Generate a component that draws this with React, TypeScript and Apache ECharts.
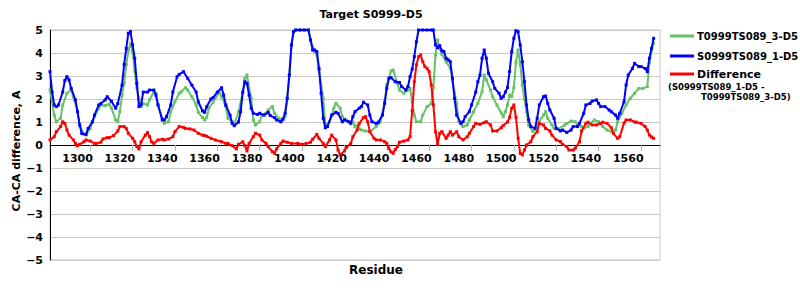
import React, { useEffect, useRef } from "react";
import * as echarts from "echarts";

const FONT = '"DejaVu Sans", Verdana, sans-serif';

const xLabelValues = [1300, 1320, 1340, 1360, 1380, 1400, 1420, 1440, 1460, 1480, 1500, 1520, 1540, 1560];
const xTickValues = [1306, 1326, 1346, 1366, 1386, 1406, 1426, 1446, 1466, 1486, 1506, 1526, 1546, 1566];

const seriesNames = ["T0999TS089_3-D5", "S0999TS089_1-D5", "Difference"];
const seriesColors = ["#66c266", "#0000ff", "#ff0000"];

// T0999TS089_3-D5 (green)
const greenData: [number, number][] = [
  [1287, 2.4], [1289, 1.3], [1290, 1.01], [1292, 1.16], [1293, 1.74], [1295, 2.25], [1297, 2.39], [1298, 2.1],
  [1300, 1.45], [1301, 0.87], [1303, 0.46], [1304, 0.43], [1306, 0.72], [1307, 1.01], [1310, 1.6], [1311, 1.74],
  [1313, 1.71], [1315, 1.77], [1316, 1.6], [1318, 1.09], [1319, 1.01], [1320, 1.45], [1321, 2.17], [1322, 2.7],
  [1323, 3.5], [1324, 4.1], [1325, 4.42], [1326, 4.06], [1327, 3.2], [1328, 2.5], [1329, 2.0], [1330, 1.67],
  [1331, 1.81], [1333, 1.74], [1334, 1.96], [1336, 2.3], [1337, 2.25], [1338, 1.74], [1340, 1.16], [1341, 0.94],
  [1343, 1.01], [1344, 1.45], [1346, 1.88], [1348, 2.25], [1349, 2.32], [1351, 2.49], [1352, 2.39], [1354, 2.1],
  [1356, 1.74], [1357, 1.42], [1359, 1.19], [1360, 1.09], [1361, 1.19], [1362, 1.6], [1364, 1.86], [1367, 2.3],
  [1368, 2.1], [1370, 1.67], [1371, 1.16], [1373, 1.01], [1374, 0.9], [1376, 1.45], [1378, 2.3], [1379, 2.9],
  [1380, 3.04], [1382, 2.03], [1383, 1.09], [1384, 0.87], [1386, 1.01], [1387, 1.3], [1389, 1.38], [1390, 1.52],
  [1392, 1.67], [1393, 1.38], [1395, 1.16], [1397, 1.09], [1398, 1.23], [1399, 2.03], [1400, 3.04], [1401, 4.35],
  [1402, 4.93], [1403, 5], [1405, 5], [1407, 5], [1409, 5], [1410, 4.57], [1412, 4.06], [1413, 3.91],
  [1414, 3.26], [1416, 2.03], [1417, 0.87], [1419, 1.01], [1421, 1.6], [1422, 1.81], [1424, 1.6], [1425, 1.23],
  [1427, 1.09], [1429, 0.92], [1430, 1.0], [1431, 0.8], [1432, 0.85], [1433, 0.7], [1434, 0.65], [1436, 0.61],
  [1438, 0.58], [1441, 0.8], [1443, 1.01], [1445, 1.9], [1446, 2.61], [1448, 3.22], [1449, 3.26], [1451, 2.68],
  [1452, 2.39], [1454, 2.25], [1456, 2.39], [1457, 2.46], [1458, 1.88], [1459, 1.3], [1460, 1.01], [1462, 1.01],
  [1463, 1.3], [1465, 1.67], [1467, 1.8], [1468, 2.5], [1469, 3.91], [1470, 4.57], [1471, 4.2], [1472, 3.95],
  [1474, 3.62], [1476, 3.33], [1477, 2.8], [1479, 1.81], [1480, 1.01], [1482, 0.8], [1484, 0.87], [1485, 1.09],
  [1487, 1.45], [1489, 1.81], [1491, 2.32], [1492, 3.04], [1493, 2.83], [1495, 2.39], [1496, 2.1], [1498, 1.74],
  [1500, 1.4], [1501, 1.23], [1502, 1.45], [1503, 1.74], [1504, 2.17], [1505, 2.1], [1506, 2.5], [1507, 3.6],
  [1508, 4.13], [1509, 3.5], [1510, 2.6], [1511, 2.0], [1512, 1.45], [1513, 0.87], [1515, 0.58], [1517, 0.8],
  [1518, 1.01], [1520, 1.3], [1521, 1.45], [1522, 1.16], [1524, 0.87], [1525, 0.72], [1527, 0.7], [1530, 0.87],
  [1531, 0.94], [1533, 1.04], [1535, 1.01], [1536, 0.87], [1538, 0.8], [1539, 0.72], [1541, 0.8], [1542, 0.94],
  [1544, 1.09], [1546, 1.01], [1548, 0.8], [1550, 0.65], [1552, 0.58], [1554, 0.65], [1555, 1.01], [1557, 1.38],
  [1559, 1.74], [1561, 2.03], [1563, 2.25], [1565, 2.46], [1567, 2.46], [1569, 2.54], [1570, 3.6], [1571, 4.1],
  [1572, 4.42],
];

// S0999TS089_1-D5 (blue)
const blueData: [number, number][] = [
  [1287, 3.19], [1288, 2.3], [1289, 1.74], [1290, 1.67], [1291, 1.74], [1293, 2.3], [1294, 2.8], [1295, 2.97],
  [1296, 2.83], [1297, 2.46], [1299, 1.96], [1300, 1.45], [1301, 0.87], [1302, 0.5], [1304, 0.46], [1305, 0.72],
  [1307, 1.0], [1308, 1.3], [1310, 1.74], [1311, 1.8], [1313, 1.96], [1314, 2.1], [1316, 1.9], [1318, 1.6],
  [1319, 1.8], [1321, 2.6], [1322, 3.5], [1323, 4.2], [1324, 4.86], [1325, 4.93], [1326, 4.35], [1327, 3.77],
  [1328, 2.68], [1329, 1.67], [1330, 1.74], [1331, 2.3], [1333, 2.3], [1334, 2.39], [1336, 2.39], [1337, 2.17],
  [1338, 1.74], [1340, 1.09], [1341, 1.09], [1342, 1.23], [1344, 1.74], [1345, 2.3], [1347, 2.97], [1348, 3.07],
  [1350, 3.19], [1352, 2.9], [1354, 2.6], [1356, 2.3], [1357, 1.88], [1359, 1.48], [1360, 1.42], [1361, 1.67],
  [1363, 2.0], [1364, 2.06], [1366, 2.3], [1368, 2.49], [1369, 2.17], [1370, 1.74], [1372, 1.3], [1373, 0.94],
  [1374, 0.84], [1376, 1.0], [1377, 1.45], [1378, 2.3], [1379, 2.75], [1380, 2.68], [1381, 2.17], [1382, 1.6],
  [1383, 1.38], [1385, 1.33], [1386, 1.38], [1388, 1.3], [1390, 1.42], [1391, 1.28], [1393, 1.19], [1394, 1.09],
  [1396, 1.01], [1397, 1.13], [1398, 1.38], [1399, 2.03], [1400, 3.04], [1401, 4.35], [1402, 4.93], [1403, 5],
  [1405, 5], [1407, 5], [1409, 5], [1410, 4.57], [1411, 4.13], [1412, 4.13], [1413, 4.06], [1414, 3.33],
  [1415, 2.25], [1416, 1.16], [1417, 0.75], [1418, 0.8], [1420, 1.3], [1422, 1.42], [1423, 1.38], [1425, 1.01],
  [1426, 1.09], [1428, 1.01], [1429, 0.95], [1430, 1.23], [1431, 1.45], [1433, 1.6], [1434, 1.67], [1435, 1.86],
  [1437, 1.74], [1438, 1.3], [1439, 1.01], [1441, 0.94], [1442, 0.99], [1444, 1.3], [1445, 1.81], [1446, 2.46],
  [1447, 2.9], [1448, 2.93], [1450, 2.75], [1452, 2.72], [1453, 2.54], [1455, 2.39], [1456, 2.54], [1457, 2.97],
  [1458, 3.3], [1459, 3.84], [1460, 4.49], [1461, 5], [1463, 5], [1465, 5], [1467, 5], [1468, 5],
  [1469, 4.35], [1470, 4.23], [1471, 4.32], [1472, 4.1], [1473, 4.06], [1474, 3.77], [1475, 3.7], [1476, 3.62],
  [1477, 2.9], [1478, 2.03], [1479, 1.3], [1481, 0.94], [1482, 1.01], [1483, 1.23], [1485, 1.45], [1486, 1.74],
  [1488, 2.3], [1489, 2.75], [1490, 3.04], [1491, 3.77], [1492, 4.13], [1493, 3.77], [1494, 3.12], [1496, 2.75],
  [1497, 2.46], [1499, 2.25], [1500, 2.03], [1501, 2.1], [1502, 2.3], [1503, 2.5], [1504, 3.2], [1505, 4.06],
  [1506, 4.64], [1507, 4.97], [1508, 4.93], [1509, 4.35], [1510, 3.62], [1511, 2.75], [1512, 1.74], [1513, 1.09],
  [1514, 0.8], [1516, 0.72], [1517, 1.16], [1518, 1.74], [1520, 2.1], [1521, 2.13], [1522, 1.81], [1523, 1.52],
  [1525, 1.16], [1526, 0.72], [1528, 0.61], [1529, 0.65], [1531, 0.55], [1533, 0.65], [1534, 0.8], [1536, 0.8],
  [1537, 0.94], [1539, 1.38], [1540, 1.74], [1542, 1.81], [1543, 1.91], [1545, 1.96], [1546, 1.81], [1547, 1.67],
  [1549, 1.67], [1551, 1.52], [1552, 1.45], [1554, 1.3], [1555, 1.16], [1556, 1.38], [1558, 1.88], [1559, 2.61],
  [1560, 3.04], [1562, 3.33], [1563, 3.55], [1565, 3.41], [1566, 3.41], [1568, 3.33], [1569, 3.19], [1570, 3.77],
  [1571, 4.2], [1572, 4.64],
];

// Difference (red)
const redData: [number, number][] = [
  [1287, 0.22], [1289, 0.36], [1290, 0.58], [1292, 0.8], [1293, 1.01], [1294, 0.94], [1295, 0.65], [1296, 0.43],
  [1298, 0.22], [1299, 0.07], [1300, -0.03], [1301, 0.03], [1303, 0.14], [1304, 0.22], [1306, 0.17], [1308, 0.07],
  [1309, 0.07], [1311, 0.12], [1312, 0.26], [1314, 0.32], [1315, 0.32], [1317, 0.41], [1319, 0.61], [1320, 0.8],
  [1322, 0.8], [1323, 0.72], [1324, 0.51], [1326, 0.29], [1327, 0.14], [1328, -0.07], [1329, -0.17], [1330, 0.14],
  [1332, 0.43], [1333, 0.54], [1334, 0.36], [1335, 0.14], [1336, 0.07], [1338, 0.22], [1340, 0.25], [1341, 0.22],
  [1343, 0.26], [1345, 0.36], [1346, 0.58], [1348, 0.8], [1350, 0.77], [1351, 0.72], [1353, 0.7], [1355, 0.65],
  [1357, 0.51], [1359, 0.43], [1360, 0.41], [1361, 0.38], [1363, 0.29], [1365, 0.22], [1368, 0.14], [1370, 0.07],
  [1371, 0.07], [1373, -0.03], [1375, -0.17], [1376, 0.03], [1378, 0.14], [1379, -0.03], [1380, -0.26], [1381, 0.07],
  [1383, 0.36], [1384, 0.51], [1386, 0.43], [1387, 0.22], [1389, 0.07], [1390, -0.07], [1392, -0.29], [1393, -0.36],
  [1394, -0.17], [1396, 0.07], [1397, 0.17], [1399, 0.12], [1401, 0.07], [1404, 0.07], [1406, 0.03], [1408, 0.07],
  [1410, 0.12], [1411, 0.25], [1413, 0.46], [1414, 0.29], [1416, 0.07], [1417, -0.07], [1419, 0.22], [1420, 0.43],
  [1422, 0.22], [1423, -0.22], [1424, -0.43], [1426, -0.26], [1427, -0.1], [1429, 0.07], [1430, 0.36], [1432, 0.65],
  [1433, 0.94], [1435, 1.19], [1436, 1.23], [1437, 1.01], [1438, 0.58], [1440, 0.29], [1441, 0.22], [1443, 0.22],
  [1445, 0.14], [1446, 0.07], [1447, -0.14], [1448, -0.3], [1449, -0.36], [1450, -0.2], [1451, -0.07], [1452, 0.12],
  [1454, 0.17], [1456, 0.22], [1457, 0.36], [1458, 1.5], [1459, 2.75], [1460, 3.48], [1461, 3.84], [1462, 3.91],
  [1463, 3.62], [1464, 3.41], [1465, 3.33], [1466, 3.19], [1467, 2.61], [1468, 1.74], [1469, 0.58], [1470, 0.03],
  [1471, 0.51], [1472, 0.58], [1474, 0.29], [1475, 0.43], [1476, 0.58], [1477, 0.43], [1479, 0.58], [1480, 0.36],
  [1482, 0.22], [1484, 0.36], [1485, 0.51], [1487, 0.8], [1488, 0.94], [1490, 0.9], [1492, 0.97], [1493, 1.01],
  [1495, 0.87], [1496, 0.61], [1498, 0.61], [1500, 0.75], [1501, 0.85], [1503, 1.0], [1504, 1.2], [1505, 1.6],
  [1506, 1.74], [1507, 1.2], [1508, 0.29], [1509, -0.36], [1510, -0.43], [1511, -0.22], [1512, 0], [1514, 0.14],
  [1515, 0.36], [1517, 0.58], [1518, 0.94], [1520, 0.87], [1521, 0.72], [1523, 0.61], [1524, 0.43], [1526, 0.22],
  [1528, 0.14], [1529, 0.03], [1531, -0.07], [1532, -0.22], [1534, -0.22], [1535, -0.14], [1537, 0.14], [1538, 0.61],
  [1540, 0.94], [1541, 0.99], [1543, 0.87], [1545, 0.87], [1547, 0.94], [1548, 0.99], [1550, 0.94], [1552, 0.75],
  [1553, 0.51], [1555, 0.29], [1556, 0.36], [1558, 0.95], [1559, 1.09], [1561, 1.09], [1563, 1.0], [1564, 0.99],
  [1566, 0.94], [1568, 0.8], [1569, 0.65], [1570, 0.43], [1571, 0.35], [1572, 0.29],
];

const GRID_TOP = 30;
const GRID_BOTTOM = 40;
const PLOT_H = 300 - GRID_TOP - GRID_BOTTOM;
const Y_MIN = -5;
const Y_MAX = 5;

export default function App() {
  const ref = useRef<HTMLDivElement>(null);

  useEffect(() => {
    if (!ref.current) return;
    const chart = echarts.init(ref.current, undefined, { renderer: "svg" });
    const mkSeries = (i: number, data: [number, number][]) => ({
      name: seriesNames[i],
      type: "line",
      data,
      symbol: "rect",
      symbolSize: 3,
      showAllSymbol: true,
      lineStyle: { color: seriesColors[i], width: 2 },
      itemStyle: { color: seriesColors[i] },
      z: 2 + i,
    });
    // x axis sits on the zero line: shift it up from the grid bottom
    const zeroOffset = -(PLOT_H * (0 - Y_MIN)) / (Y_MAX - Y_MIN);
    chart.setOption({
      animation: false,
      backgroundColor: "#ffffff",
      title: {
        text: "Target S0999-D5",
        left: 371,
        top: 9,
        textAlign: "center",
        padding: 0,
        textStyle: { fontFamily: FONT, fontSize: 11, fontWeight: "bold", color: "#000" },
      },
      grid: {
        left: 50,
        right: 140,
        top: GRID_TOP,
        bottom: GRID_BOTTOM,
        show: true,
        borderColor: "#c8c8c8",
        borderWidth: 1,
        containLabel: false,
      },
      xAxis: {
        type: "value",
        min: 1287,
        max: 1575,
        position: "bottom",
        offset: zeroOffset,
        axisLine: { onZero: false, lineStyle: { color: "#000", width: 1 } },
        axisTick: {
          show: true,
          customValues: xTickValues,
          length: 6,
          lineStyle: { color: "#b4b4b4" },
        },
        axisLabel: {
          customValues: xLabelValues,
          fontFamily: FONT,
          fontSize: 11,
          fontWeight: "bold",
          color: "#000",
          margin: 8,
          formatter: (v: number) => String(v),
        },
        splitLine: { show: false },
      },
      yAxis: {
        type: "value",
        min: Y_MIN,
        max: Y_MAX,
        interval: 1,
        axisLine: { show: true, onZero: false, lineStyle: { color: "#000", width: 1 } },
        axisTick: { show: false },
        axisLabel: {
          fontFamily: FONT,
          fontSize: 11,
          fontWeight: "bold",
          color: "#000",
          margin: 7,
          formatter: (v: number) => String(v).replace("-", "\u2212"),
        },
        splitLine: { show: true, lineStyle: { color: "#c8c8c8", width: 1 } },
      },
      series: [mkSeries(0, greenData), mkSeries(1, blueData), mkSeries(2, redData)],
      graphic: [
        {
          type: "text",
          x: 16,
          y: 151,
          rotation: Math.PI / 2,
          style: {
            text: "CA-CA difference, A",
            font: `bold 11px ${FONT}`,
            fill: "#000",
            textAlign: "center",
            textVerticalAlign: "middle",
          },
        },
        {
          type: "text",
          x: 376,
          y: 270,
          style: {
            text: "Residue",
            font: `bold 12px ${FONT}`,
            fill: "#000",
            textAlign: "center",
            textVerticalAlign: "middle",
          },
        },
        { type: "line", shape: { x1: 670, y1: 36, x2: 694, y2: 36 }, style: { stroke: seriesColors[0], lineWidth: 3 } },
        {
          type: "text",
          x: 697,
          y: 36,
          style: { text: seriesNames[0], font: `bold 10px ${FONT}`, fill: "#000", textVerticalAlign: "middle" },
        },
        { type: "line", shape: { x1: 670, y1: 56, x2: 694, y2: 56 }, style: { stroke: seriesColors[1], lineWidth: 3 } },
        {
          type: "text",
          x: 697,
          y: 56,
          style: { text: seriesNames[1], font: `bold 10px ${FONT}`, fill: "#000", textVerticalAlign: "middle" },
        },
        { type: "line", shape: { x1: 670, y1: 74, x2: 694, y2: 74 }, style: { stroke: seriesColors[2], lineWidth: 3 } },
        {
          type: "text",
          x: 697,
          y: 74,
          style: { text: seriesNames[2], font: `bold 11px ${FONT}`, fill: "#000", textVerticalAlign: "middle" },
        },
        {
          type: "text",
          x: 668,
          y: 87,
          style: { text: "(S0999TS089_1-D5 -", font: `bold 8.5px ${FONT}`, fill: "#000", textVerticalAlign: "middle" },
        },
        {
          type: "text",
          x: 701,
          y: 97,
          style: { text: "T0999TS089_3-D5)", font: `bold 8.5px ${FONT}`, fill: "#000", textVerticalAlign: "middle" },
        },
      ],
    });
    return () => chart.dispose();
  }, []);

  return (
    <div
      ref={ref}
      style={{ position: "fixed", left: 0, top: 0, width: 800, height: 300, background: "#fff" }}
    />
  );
}
